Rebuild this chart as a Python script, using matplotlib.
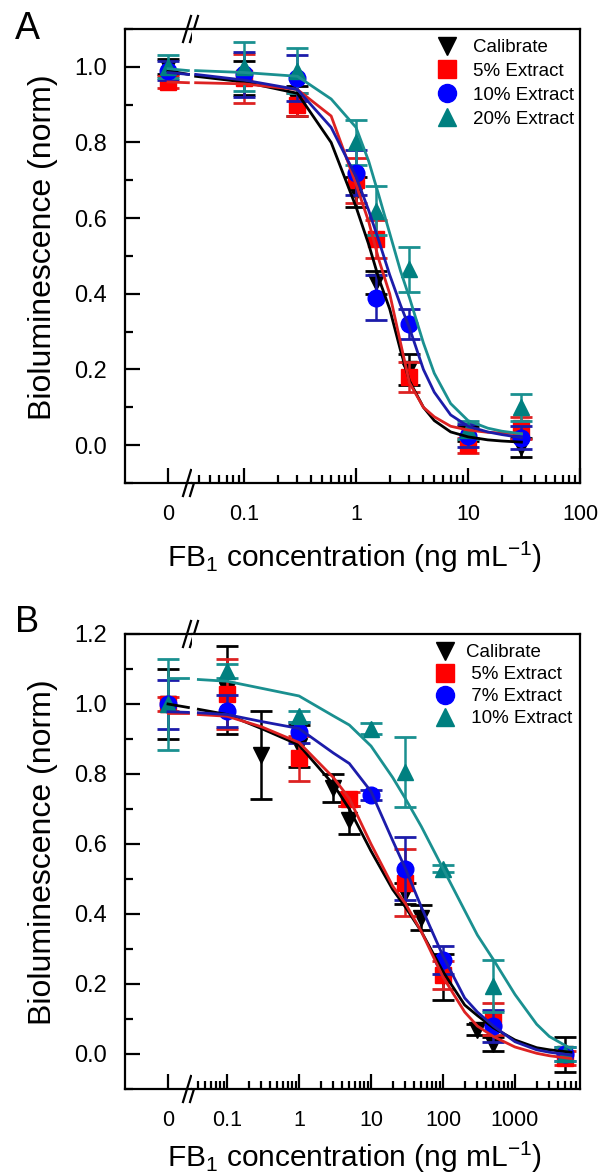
import numpy as np
import matplotlib.pyplot as plt
from matplotlib.lines import Line2D
from matplotlib.ticker import FixedLocator, LogLocator, NullFormatter, FuncFormatter, MultipleLocator

plt.rcParams['font.family'] = ['Liberation Sans', 'DejaVu Sans']
plt.rcParams['mathtext.fontset'] = 'custom'
plt.rcParams['mathtext.rm'] = 'Liberation Sans'
plt.rcParams['mathtext.it'] = 'Liberation Sans:italic'

# ---------------- panel A data ----------------
A_x = [0, 0.1, 0.3, 1, 1.5, 3, 10, 30]
A_cal_y = [1.00, 0.97, 0.91, 0.67, 0.43, 0.20, 0.03, -0.005]
A_cal_e = [0.02, 0.045, 0.04, 0.04, 0.03, 0.04, 0.02, 0.025]
A_5_y = [0.96, 0.97, 0.90, 0.70, 0.545, 0.18, 0.0, 0.045]
A_5_e = [0.015, 0.065, 0.03, 0.06, 0.05, 0.04, 0.02, 0.03]
A_10_y = [0.99, 0.98, 0.97, 0.72, 0.39, 0.32, 0.025, 0.02]
A_10_e = [0.025, 0.06, 0.06, 0.06, 0.06, 0.04, 0.03, 0.03]
A_20_y = [1.0, 1.0, 0.99, 0.80, 0.62, 0.465, 0.04, 0.10]
A_20_e = [0.03, 0.065, 0.06, 0.06, 0.065, 0.06, 0.025, 0.035]

# fitted curves
A_seg_x = [0, 0.85]
A_seg_cal = [0.99, 0.98]
A_seg_5 = [0.96, 0.958]
A_seg_10 = [0.985, 0.98]
A_seg_20 = [0.995, 0.99]
A_fit_x = [0.037, 0.1, 0.3, 0.6, 1, 1.3, 1.6, 2, 2.5, 3, 4, 5, 7, 10, 15, 20, 30]
A_fit_cal = [0.975, 0.96, 0.93, 0.80, 0.63, 0.53, 0.44, 0.36, 0.25, 0.17, 0.10, 0.065, 0.035,
             0.022, 0.014, 0.011, 0.008]
A_fit_5 = [0.958, 0.955, 0.94, 0.87, 0.69, 0.59, 0.49, 0.40, 0.27, 0.165, 0.10, 0.075, 0.05,
           0.04, 0.034, 0.032, 0.03]
A_fit_10 = [0.98, 0.965, 0.94, 0.84, 0.71, 0.62, 0.54, 0.45, 0.37, 0.31, 0.20, 0.14, 0.08,
            0.05, 0.035, 0.028, 0.02]
A_fit_20 = [0.99, 0.985, 0.975, 0.915, 0.84, 0.75, 0.66, 0.56, 0.46, 0.39, 0.27, 0.19, 0.11,
            0.065, 0.045, 0.037, 0.03]

# ---------------- panel B data ----------------
B_cal_x = [0, 0.1, 0.3, 1, 3, 5, 30, 50, 100, 300, 500, 5000]
B_cal_y = [1.0, 1.04, 0.855, 0.88, 0.76, 0.67, 0.46, 0.39, 0.22, 0.07, 0.03, 0.0]
B_cal_e = [0.10, 0.125, 0.125, 0.06, 0.04, 0.04, 0.03, 0.035, 0.065, 0.015, 0.02, 0.05]
B_5_x = [0, 0.1, 1, 5, 30, 100, 500, 5000]
B_5_y = [1.0, 1.03, 0.845, 0.73, 0.49, 0.225, 0.10, -0.01]
B_5_e = [0.02, 0.10, 0.065, 0.02, 0.095, 0.04, 0.045, 0.02]
B_7_x = [0, 0.1, 1, 10, 30, 100, 500, 5000]
B_7_y = [1.0, 0.98, 0.92, 0.74, 0.53, 0.27, 0.08, 0.0]
B_7_e = [0.07, 0.045, 0.03, 0.015, 0.09, 0.04, 0.045, 0.02]
B_10_x = [0, 0.1, 1, 10, 30, 100, 500, 5000]
B_10_y = [1.0, 1.095, 0.965, 0.93, 0.805, 0.53, 0.195, 0.0]
B_10_e = [0.13, 0.02, 0.015, 0.015, 0.10, 0.01, 0.075, 0.02]

B_seg_x = [0, 0.85]
B_seg_cal = [1.0, 0.99]
B_seg_5 = [0.975, 0.975]
B_seg_7 = [0.978, 0.976]
B_seg_10 = [1.075, 1.075]
B_fit_x = [0.04, 0.1, 0.3, 1, 3, 5, 10, 20, 30, 50, 100, 200, 300, 500, 1000, 2000, 3000, 6000]
B_fit_cal = [0.985, 0.97, 0.93, 0.883, 0.77, 0.70, 0.58, 0.47, 0.42, 0.35, 0.235, 0.14, 0.11,
             0.075, 0.04, 0.018, 0.012, 0.005]
B_fit_5 = [0.97, 0.965, 0.935, 0.89, 0.79, 0.73, 0.60, 0.48, 0.43, 0.35, 0.22, 0.12, 0.08,
           0.05, 0.02, 0.002, -0.005, -0.013]
B_fit_7 = [0.975, 0.97, 0.95, 0.93, 0.86, 0.83, 0.75, 0.61, 0.53, 0.42, 0.28, 0.16, 0.12,
           0.08, 0.035, 0.012, 0.005, -0.003]
B_fit_10 = [1.07, 1.065, 1.045, 1.023, 0.966, 0.94, 0.88, 0.79, 0.73, 0.65, 0.53, 0.41, 0.34,
            0.27, 0.17, 0.085, 0.05, 0.015]

markers = ['v', 's', 'o', '^']
mcolors = ['#000000', '#ff0000', '#0000ff', '#008080']
lcolors = ['#000000', '#dd2222', '#1c1caa', '#1a9090']

W, H = 601, 1176
fig = plt.figure(figsize=(W / 100, H / 100), dpi=100)


def px_axes(left, right, top, bottom):
    return fig.add_axes([left / W, 1 - bottom / H, (right - left) / W, (bottom - top) / H])


def setup_panel(top, bottom, log_left, log_right, ylim, ytop, xmajor, xl_base):
    left, brk, zero, right = 125, 192, 168, 580
    ax0 = px_axes(left, brk, top, bottom)
    ax1 = px_axes(brk, right, top, bottom)
    ax0.set_xlim(-(zero - left) / (brk - zero), 1)
    ax1.set_xscale('log')
    ax1.set_xlim(log_left, log_right)
    for ax in (ax0, ax1):
        ax.set_ylim(*ylim)
        for s in ax.spines.values():
            s.set_linewidth(1.6)
        ax.tick_params(which='both', direction='in', top=False, right=False, width=1.6,
                       labelsize=15.5, pad=15)
        ax.tick_params(which='major', length=11)
        ax.tick_params(which='minor', length=6)
    ax0.spines['right'].set_visible(False)
    ax1.spines['left'].set_visible(False)
    ax0.set_xticks([0])
    ax0.set_xticklabels(['0'])
    ax0.yaxis.set_major_locator(FixedLocator(np.round(np.arange(0, ytop + 0.01, 0.2), 1)))
    ax0.yaxis.set_minor_locator(MultipleLocator(0.1))
    ax0.yaxis.set_major_formatter(FuncFormatter(lambda v, p: '%.1f' % v))
    ax0.tick_params(axis='y', pad=13, labelsize=17)
    ax1.tick_params(axis='y', which='both', left=False, labelleft=False)
    ax1.xaxis.set_major_locator(FixedLocator(xmajor))
    ax1.xaxis.set_major_formatter(FuncFormatter(lambda v, p: '%g' % v))
    ax1.xaxis.set_minor_locator(LogLocator(base=10, subs=np.arange(2, 10), numticks=30))
    ax1.xaxis.set_minor_formatter(NullFormatter())

    # break marks "//" on top and bottom spines
    wpx = brk - left
    hpx = bottom - top
    for yb in (0, 1):
        for dx in (-5, 2):
            ax0.plot([1 + (dx - 4) / wpx, 1 + (dx + 4) / wpx],
                     [yb - 13 / hpx, yb + 13 / hpx], transform=ax0.transAxes,
                     color='black', lw=1.6, clip_on=False, zorder=10)

    ax0.set_ylabel('Bioluminescence (norm)', fontsize=23)
    ax0.yaxis.set_label_coords(-(125 - 58) / wpx, 0.52)
    fig.text(354 / W, 1 - xl_base / H, r'FB$_1$ concentration (ng mL$^{-1}$)',
             fontsize=21.5, ha='center', va='baseline')
    return ax0, ax1


def draw_series(ax0, ax1, x, y, e, i):
    x = np.asarray(x, float)
    y = np.asarray(y, float)
    e = np.asarray(e, float)
    z = x == 0
    for ax, m in ((ax0, z), (ax1, ~z)):
        ax.errorbar(x[m], y[m], yerr=e[m], fmt=markers[i], ms=12, mfc=mcolors[i], mec=mcolors[i],
                    ecolor=lcolors[i], elinewidth=1.8, capsize=8, capthick=2, zorder=3 + i * 0.1)


def draw_fit(ax0, ax1, sx, sy, fx, fy, i):
    ax0.plot(sx, sy, color=lcolors[i], lw=2, zorder=4)
    ax1.plot(fx, fy, color=lcolors[i], lw=2, zorder=4)


def add_legend(ax, labels, x_left, y_top, pad, spacing):
    handles = [Line2D([0], [0], marker=markers[i], color='none', mfc=mcolors[i], mec=mcolors[i],
                      ms=13, label=labels[i]) for i in range(4)]
    ax.legend(handles=handles, loc='upper left', bbox_to_anchor=(x_left / W, 1 - y_top / H),
              bbox_transform=fig.transFigure, frameon=False, fontsize=13.5, handlelength=1.0,
              handletextpad=pad, labelspacing=spacing, borderpad=0, borderaxespad=0)


# ---------------- Panel A ----------------
a0, a1 = setup_panel(29, 483, 10 ** ((192 - 356) / 112), 100, (-0.1, 1.1), 1.0, [0.1, 1, 10, 100], 567)
for i, (yy, ee) in enumerate([(A_cal_y, A_cal_e), (A_5_y, A_5_e), (A_10_y, A_10_e), (A_20_y, A_20_e)]):
    draw_series(a0, a1, A_x, yy, ee, i)
for i, (sy, fy) in enumerate([(A_seg_cal, A_fit_cal), (A_seg_5, A_fit_5),
                              (A_seg_10, A_fit_10), (A_seg_20, A_fit_20)]):
    draw_fit(a0, a1, A_seg_x, sy, A_fit_x, fy, i)
add_legend(a1, ['Calibrate', '5% Extract', '10% Extract', '20% Extract'], 438, 39, 0.85, 0.36)
fig.text(27 / W, 1 - 29 / H, 'A', fontsize=27, ha='center', va='center')

# ---------------- Panel B ----------------
b0, b1 = setup_panel(634, 1089, 10 ** ((192 - 299) / 72), 10 ** ((580 - 299) / 72), (-0.1, 1.2), 1.2,
                     [0.1, 1, 10, 100, 1000], 1167)
for i, (xx, yy, ee) in enumerate([(B_cal_x, B_cal_y, B_cal_e), (B_5_x, B_5_y, B_5_e),
                                  (B_7_x, B_7_y, B_7_e), (B_10_x, B_10_y, B_10_e)]):
    draw_series(b0, b1, xx, yy, ee, i)
for i, (sy, fy) in enumerate([(B_seg_cal, B_fit_cal), (B_seg_5, B_fit_5),
                              (B_seg_7, B_fit_7), (B_seg_10, B_fit_10)]):
    draw_fit(b0, b1, B_seg_x, sy, B_fit_x, fy, i)
add_legend(b1, ['Calibrate', ' 5% Extract', ' 7% Extract', ' 10% Extract'], 436, 644, 0.62, 0.26)
fig.text(27 / W, 1 - 622 / H, 'B', fontsize=26, ha='center', va='center')

fig.savefig('out.png', dpi=100, facecolor='white')
